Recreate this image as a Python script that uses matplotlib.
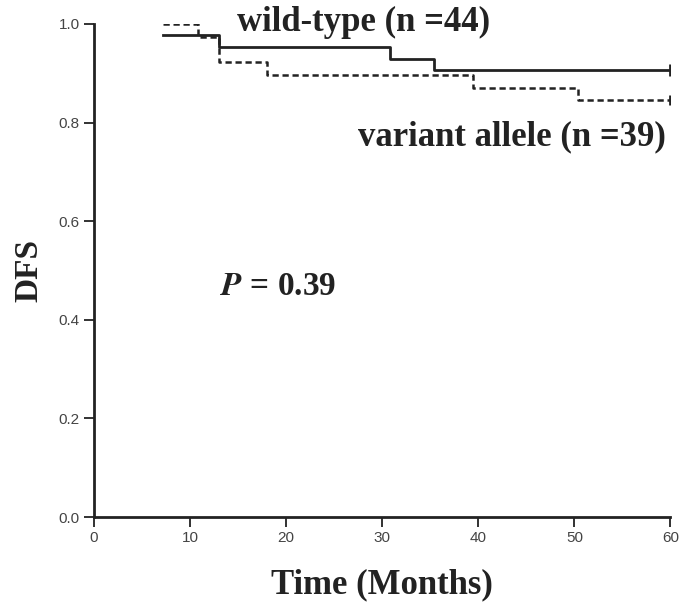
import numpy as np
from matplotlib import pyplot as plt

# Kaplan-Meier step data (months, DFS)
wt_time = [7.2, 13.0, 30.8, 35.4, 60.0]
wt_surv = [0.977, 0.954, 0.930, 0.907, 0.907]
var_time = [7.2, 10.8, 13.0, 18.0, 39.5, 50.4, 60.0]
var_surv = [1.0, 0.974, 0.923, 0.897, 0.870, 0.846, 0.846]

x_ticks = [0, 10, 20, 30, 40, 50, 60]
y_ticks = [0.0, 0.2, 0.4, 0.6, 0.8, 1.0]

serif = ["Liberation Serif", "DejaVu Serif"]
sans = ["Liberation Sans", "DejaVu Sans"]
plt.rcParams["mathtext.fontset"] = "stix"

fig = plt.figure(figsize=(6.8, 6.03), dpi=100)
ax = fig.add_axes([0.138, 0.1426, 0.848, 0.8176])

# Survival curves
ax.step(wt_time, wt_surv, where="post", color="#222222", lw=2.0)
ax.step(var_time, var_surv, where="post", color="#222222", lw=1.8,
        linestyle=(0, (2.5, 1.5)))

# Censor marks at end of follow-up
ax.plot(wt_time[-1], wt_surv[-1], marker="|", color="#222222", ms=9, mew=2)
ax.plot(var_time[-1], var_surv[-1], marker="|", color="#222222", ms=7, mew=2)

ax.set_xlim(0, 60)
ax.set_ylim(0, 1.0)
ax.set_xticks(x_ticks)
ax.set_yticks(y_ticks)
ax.set_xticklabels([str(t) for t in x_ticks], fontfamily=sans, fontsize=11, color="#444444")
ax.set_yticklabels([f"{t:.1f}" for t in y_ticks], fontfamily=sans, fontsize=11, color="#444444")
ax.tick_params(direction="out", length=7, width=1.3, color="#222222", pad=3)

for side in ["top", "right"]:
    ax.spines[side].set_visible(False)
for side in ["left", "bottom"]:
    ax.spines[side].set_linewidth(2.0)
    ax.spines[side].set_color("#222222")
    ax.spines[side].set_clip_on(False)

ax.set_xlabel("Time (Months)", fontfamily=serif, fontweight="bold", fontsize=25,
              color="#222222", labelpad=17)
ax.set_ylabel("DFS", fontfamily=serif, fontweight="bold", fontsize=24,
              color="#222222", labelpad=10)

# Annotations
ax.text(14.9, 1.004, "wild-type (n =44)", fontfamily=serif, fontweight="bold",
        fontsize=25, color="#222222", ha="left", va="center")
ax.text(59.5, 0.771, "variant allele (n =39)", fontfamily=serif, fontweight="bold",
        fontsize=25, color="#222222", ha="right", va="center")
ax.text(13.1, 0.467, r"$\mathbfit{P}$ = 0.39", fontfamily=serif, fontweight="bold",
        fontsize=24, color="#222222", ha="left", va="center")

fig.savefig("out.png", dpi=100)
